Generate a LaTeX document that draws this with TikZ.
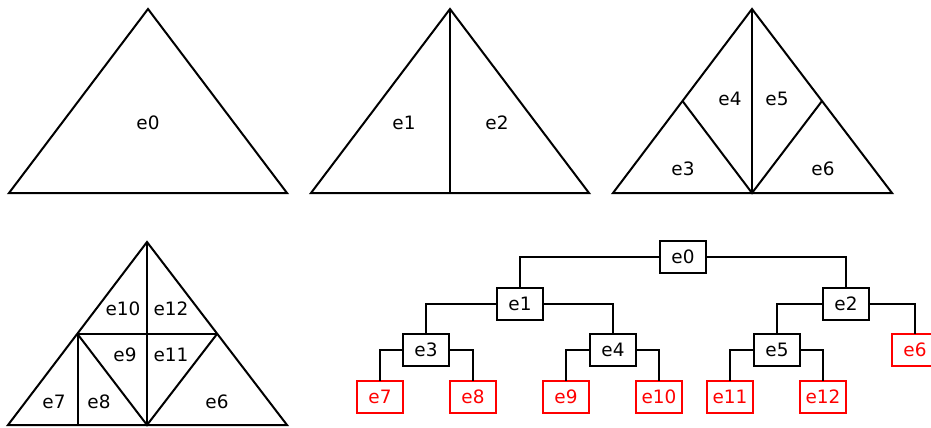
\documentclass[tikz,border=0pt]{standalone}
\usepackage{fontspec}
\setmainfont{DejaVu Sans}
\begin{document}
\begin{tikzpicture}[x=1bp,y=-1bp,
  edge/.style={line width=2bp, line join=miter},
  lbl/.style={font=\fontsize{18.5}{20}\selectfont, inner sep=0pt},
  tbox/.style={draw, line width=2bp, minimum width=46bp, minimum height=32bp, inner sep=0pt, outer sep=0pt, font=\fontsize{18.5}{20}\selectfont},
  leaf/.style={tbox, draw=red, text=red},
  conn/.style={line width=2bp}]
\useasboundingbox (0,0) rectangle (931,427);
\clip (0,0) rectangle (931,427);
% triangle 1
\draw[edge] (148,9) -- (287,193) -- (9,193) -- cycle;
\node[lbl] (t0) at (148,123) {e0};
% triangle 2
\draw[edge] (450,9) -- (589,193) -- (311,193) -- cycle;
\draw[edge] (450,9) -- (450,193);
\node[lbl] (t1) at (404,123) {e1};
\node[lbl] (t2) at (497,123) {e2};
% triangle 3
\draw[edge] (752,9) -- (892,193) -- (613,193) -- cycle;
\draw[edge] (752,9) -- (752,193);
\draw[edge] (682.5,101) -- (752,193) -- (822,101);
\node[lbl] (t4) at (730,99) {e4};
\node[lbl] (t5) at (777,99) {e5};
\node[lbl] (t3) at (683,169) {e3};
\node[lbl] (t6) at (823,169) {e6};
% triangle 4
\draw[edge] (147,242) -- (287,425) -- (8,425) -- cycle;
\draw[edge] (147,242) -- (147,425);
\draw[edge] (77.5,334) -- (217,334);
\draw[edge] (77.5,334) -- (147,425) -- (217,334);
\draw[edge] (78,334) -- (78,425);
\node[lbl] (u10) at (123,309) {e10};
\node[lbl] (u12) at (171,309) {e12};
\node[lbl] (u9) at (125,355) {e9};
\node[lbl] (u11) at (171,355) {e11};
\node[lbl] (u7) at (54,402) {e7};
\node[lbl] (u8) at (99,402) {e8};
\node[lbl] (u6) at (217,402) {e6};
% tree
\node[tbox] (e0) at (683,257) {e0};
\node[tbox] (e1) at (520,304) {e1};
\node[tbox] (e2) at (846,304) {e2};
\node[tbox] (e3) at (426,350) {e3};
\node[tbox] (e4) at (613,350) {e4};
\node[tbox] (e5) at (777,350) {e5};
\node[leaf] (e6) at (915,350) {e6};
\node[leaf] (e7) at (380,397) {e7};
\node[leaf] (e8) at (473,397) {e8};
\node[leaf] (e9) at (566,397) {e9};
\node[leaf] (e10) at (659,397) {e10};
\node[leaf] (e11) at (730,397) {e11};
\node[leaf] (e12) at (823,397) {e12};
\draw[conn] (e0.west) -| (e1.north);
\draw[conn] (e0.east) -| (e2.north);
\draw[conn] (e1.west) -| (e3.north);
\draw[conn] (e1.east) -| (e4.north);
\draw[conn] (e2.west) -| (e5.north);
\draw[conn] (e2.east) -| (e6.north);
\draw[conn] (e3.west) -| (e7.north);
\draw[conn] (e3.east) -| (e8.north);
\draw[conn] (e4.west) -| (e9.north);
\draw[conn] (e4.east) -| (e10.north);
\draw[conn] (e5.west) -| (e11.north);
\draw[conn] (e5.east) -| (e12.north);
\end{tikzpicture}
\end{document}
